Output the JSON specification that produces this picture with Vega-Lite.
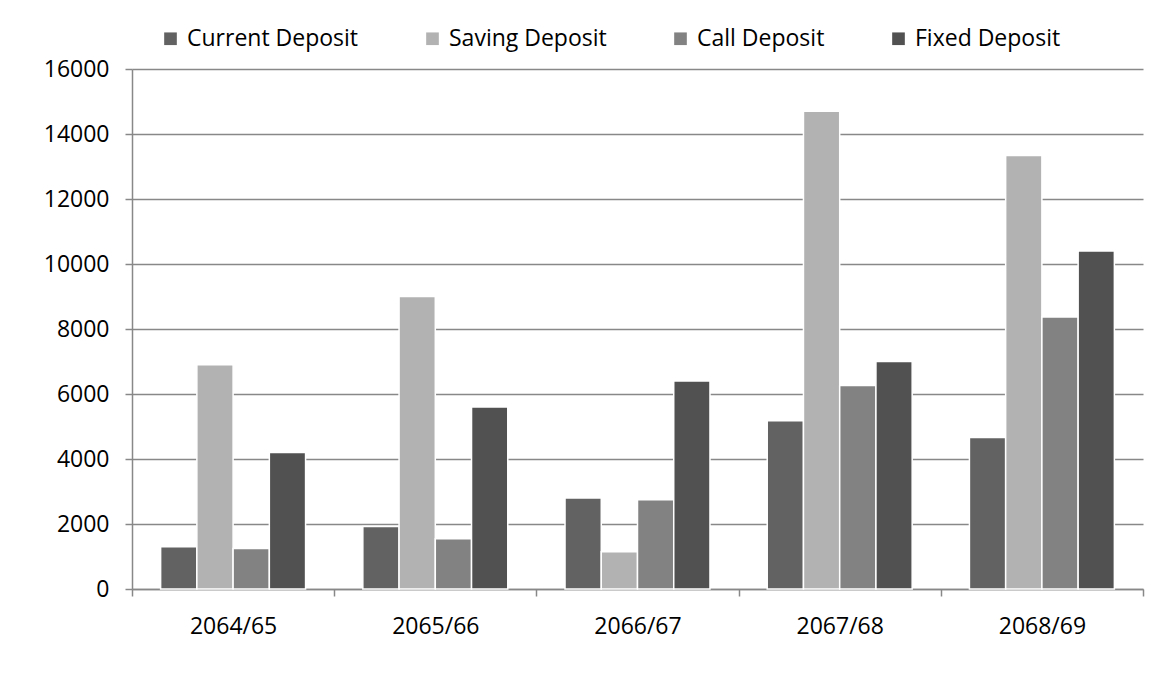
{
  "$schema": "https://vega.github.io/schema/vega-lite/v6.json",
  "width": 1011,
  "height": 520,
  "autosize": {"type": "none"},
  "padding": {"left": 132, "top": 69, "right": 13, "bottom": 84},
  "background": "white",
  "config": {
    "view": {"stroke": null},
    "font": "Open Sans",
    "axis": {"labelFont": "Open Sans", "labelFontSize": 23, "labelColor": "#000000"},
    "legend": {"labelFont": "Open Sans", "labelFontSize": 23, "labelColor": "#000000"}
  },
  "data": {
    "values": [
      {"year": "2064/65", "type": "Current Deposit", "amount": 1300},
      {"year": "2064/65", "type": "Saving Deposit", "amount": 6900},
      {"year": "2064/65", "type": "Call Deposit", "amount": 1250},
      {"year": "2064/65", "type": "Fixed Deposit", "amount": 4200},
      {"year": "2065/66", "type": "Current Deposit", "amount": 1920},
      {"year": "2065/66", "type": "Saving Deposit", "amount": 9000},
      {"year": "2065/66", "type": "Call Deposit", "amount": 1550},
      {"year": "2065/66", "type": "Fixed Deposit", "amount": 5600},
      {"year": "2066/67", "type": "Current Deposit", "amount": 2800},
      {"year": "2066/67", "type": "Saving Deposit", "amount": 1150},
      {"year": "2066/67", "type": "Call Deposit", "amount": 2750},
      {"year": "2066/67", "type": "Fixed Deposit", "amount": 6400},
      {"year": "2067/68", "type": "Current Deposit", "amount": 5180},
      {"year": "2067/68", "type": "Saving Deposit", "amount": 14700},
      {"year": "2067/68", "type": "Call Deposit", "amount": 6260},
      {"year": "2067/68", "type": "Fixed Deposit", "amount": 7000},
      {"year": "2068/69", "type": "Current Deposit", "amount": 4660},
      {"year": "2068/69", "type": "Saving Deposit", "amount": 13340},
      {"year": "2068/69", "type": "Call Deposit", "amount": 8370},
      {"year": "2068/69", "type": "Fixed Deposit", "amount": 10400}
    ]
  },
  "mark": {"type": "bar", "stroke": "white", "strokeWidth": 1.5},
  "encoding": {
    "x": {
      "field": "year",
      "type": "nominal",
      "sort": null,
      "scale": {"paddingInner": 0, "paddingOuter": 0},
      "axis": {
        "title": null,
        "labelAngle": 0,
        "domainColor": "#888888",
        "domainWidth": 1.5,
        "tickColor": "#888888",
        "tickWidth": 1.5,
        "tickSize": 7,
        "tickBand": "extent",
        "labelPadding": 19,
        "grid": false
      }
    },
    "xOffset": {
      "field": "type",
      "type": "nominal",
      "sort": ["Current Deposit", "Saving Deposit", "Call Deposit", "Fixed Deposit"],
      "scale": {"paddingInner": 0, "paddingOuter": 0.79}
    },
    "y": {
      "field": "amount",
      "type": "quantitative",
      "scale": {"domain": [0, 16000], "nice": false},
      "axis": {
        "title": null,
        "values": [0, 2000, 4000, 6000, 8000, 10000, 12000, 14000, 16000],
        "format": "d",
        "domainColor": "#888888",
        "domainWidth": 1.5,
        "tickColor": "#888888",
        "tickWidth": 1.5,
        "tickSize": 7,
        "labelPadding": 16,
        "gridColor": "#888888",
        "gridWidth": 1.5
      }
    },
    "color": {
      "field": "type",
      "type": "nominal",
      "sort": ["Current Deposit", "Saving Deposit", "Call Deposit", "Fixed Deposit"],
      "scale": {
        "domain": ["Current Deposit", "Saving Deposit", "Call Deposit", "Fixed Deposit"],
        "range": ["#626262", "#b2b2b2", "#828282", "#515151"]
      },
      "legend": {
        "title": null,
        "orient": "none",
        "direction": "horizontal",
        "legendX": 27,
        "legendY": -42,
        "symbolType": "square",
        "symbolSize": 160,
        "symbolStrokeWidth": 0,
        "labelOffset": 5,
        "labelLimit": 0,
        "columnPadding": 62
      }
    }
  }
}
